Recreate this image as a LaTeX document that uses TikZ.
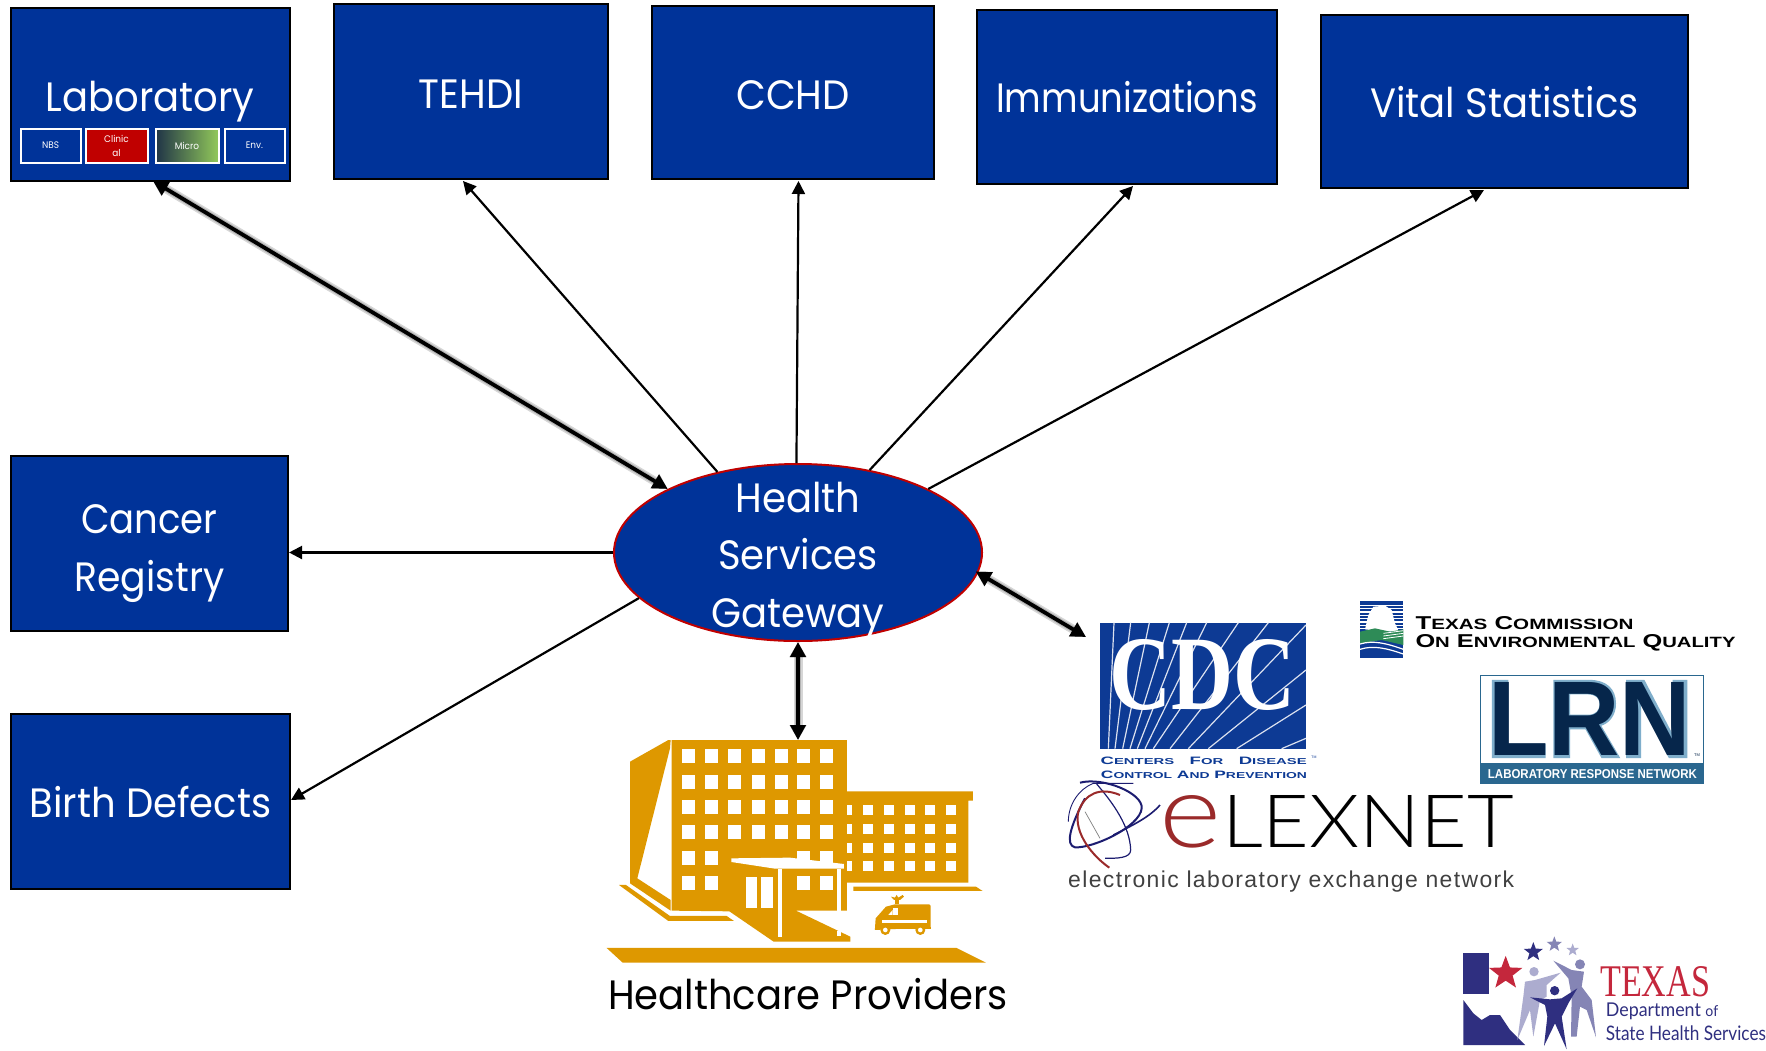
\documentclass[tikz,border=0pt]{standalone}
\usepackage{fontspec}
\usetikzlibrary{arrows.meta,shapes.geometric}
\setmainfont[FakeStretch=.94]{Poppins}
\newfontfamily\arialf{Liberation Sans}
\newfontfamily\serifc{Liberation Serif}
\newfontfamily\latof{Lato}
\newfontfamily\latolight{Lato Light}
\definecolor{boxblue}{HTML}{003399}
\definecolor{gwred}{HTML}{C00000}
\definecolor{hosp}{HTML}{DE9800}
\definecolor{cdcblue}{HTML}{0D3A94}
\definecolor{lrnnavy}{HTML}{06264B}
\definecolor{lrnband}{HTML}{2A678F}
\definecolor{lrnlight}{HTML}{7FAECB}
\definecolor{txnavy}{HTML}{2F2F80}
\definecolor{txred}{HTML}{C4273C}
\definecolor{txmid}{HTML}{8585B5}
\definecolor{txlight}{HTML}{ACACCF}
\definecolor{elexred}{HTML}{9A2A2A}
\definecolor{elexnavy}{HTML}{1C1C70}
\definecolor{tcgreen}{HTML}{2E8B57}
\definecolor{microa}{HTML}{1F3347}
\definecolor{microb}{HTML}{92C95A}
\newcommand{\capsm}[2]{{\fontsize{10}{10}\selectfont #1}{\fontsize{8}{8}\selectfont #2}}
\newcommand{\up}[1]{\rule{0pt}{#1pt}}
\tikzset{
  bluebox/.style={draw=black,line width=1.6pt,fill=boxblue,text=white,inner sep=0pt,align=center,font=\fontsize{41}{58}\selectfont},
  subbox/.style={draw=white,line width=2pt,fill=boxblue,text=white,inner sep=0pt,align=center,font=\fontsize{9.5}{14}\selectfont},
  thinarrow/.style={draw=black,line width=2.2pt,-{Triangle[length=13pt,width=13pt]}},
  thickarrow/.style={draw=black,line width=3.8pt,{Triangle[length=15pt,width=15pt]}-{Triangle[length=15pt,width=15pt]}},
  softshadow/.style={draw=black,opacity=.16,{Triangle[length=15pt,width=16pt]}-{Triangle[length=15pt,width=16pt]},shift={(-1.5pt,-4pt)}},
  lbl/.style={inner sep=0pt,align=center},
  win/.style={fill=white},
}
\newcommand{\shadowed}[2]{%
  \draw[softshadow,line width=9pt] (#1) -- (#2);
  \draw[softshadow,line width=6pt] (#1) -- (#2);
  \draw[thickarrow] (#1) -- (#2);}
\begin{document}
\begin{tikzpicture}[x=1pt,y=-1pt]
\useasboundingbox (0,0) rectangle (1766,1050);
\fill[white] (0,0) rectangle (1766,1050);

% ---------- boxes
\node[bluebox,minimum width=279.5pt,minimum height=173.5pt] (lab) at (150.5,94.5) {};
\node[lbl,text=white,font=\fontsize{41}{58}\selectfont] (labtext) at (150,102) {Laboratory};
\node[subbox,minimum width=60pt,minimum height=34pt] (nbs) at (50.5,145.5) {NBS};
\node[subbox,minimum width=62pt,minimum height=34pt,fill=gwred] (clin) at (116.5,145.5) {Clinic\\al};
\node[subbox,minimum width=63pt,minimum height=34pt,left color=microa,right color=microb,middle color=microa!50!microb] (micro) at (187,145.5) {Micro};
\node[subbox,minimum width=60pt,minimum height=34pt] (env) at (254.5,145.5) {Env.};
\node[bluebox,minimum width=274.5pt,minimum height=175.5pt] (tehdi) at (471,91.5) {\up{33}TEHDI};
\node[bluebox,minimum width=282.5pt,minimum height=173.5pt] (cchd) at (793,92.5) {\up{35}CCHD};
\node[bluebox,minimum width=300.5pt,minimum height=174.5pt] (imm) at (1127,97) {\up{31}\scalebox{.92}[1]{Immunizations}};
\node[bluebox,minimum width=367.5pt,minimum height=173.5pt] (vital) at (1504.5,101.5) {\up{33}Vital Statistics};
\node[bluebox,minimum width=277.5pt,minimum height=175.5pt] (cancer) at (149.5,543.5) {\up{49}\scalebox{.96}[1]{Cancer}\\\scalebox{.98}[1]{Registry}};
\node[bluebox,minimum width=279.5pt,minimum height=175.5pt] (birth) at (150.5,801.5) {\up{33}Birth Defects};

% ---------- gateway
\node[ellipse,draw=gwred,line width=2pt,fill=boxblue,inner sep=0pt,minimum width=368pt,minimum height=177pt] (gw) at (798,552.5) {};
\node[lbl,text=white,font=\fontsize{41}{57.5}\selectfont] (gwtext) at (798,560) {Health\\Services\\Gateway};

% ---------- connector ends
\coordinate (labtip) at (153,181);
\coordinate (tehditip) at (463,181);
\coordinate (cchdtip) at (798.5,181);
\coordinate (immtip) at (1133,186);
\coordinate (vitaltip) at (1484,190);
\coordinate (cdctip) at (1086,637);
\coordinate (hosptip) at (798,740);

\draw[thinarrow] (gw.135.5) -- (tehditip);
\draw[thinarrow] (gw.91) -- (cchdtip);
\draw[thinarrow] (gw.49.5) -- (immtip);
\draw[thinarrow] (gw.26) -- (vitaltip);
\draw[thinarrow] (gw.west) -- (cancer.east |- gw.west);
\draw[thinarrow] (gw.196.6) -- (birth.east |- 0,800);
\shadowed{labtip}{gw.154.5}
\shadowed{[xshift=-3pt]gw.-6.9}{cdctip}
\shadowed{gw.south}{hosptip}

% ---------- hospital
\begin{scope}[shift={(590,720)},x=.3333pt,y=-.3333pt]
\fill[hosp] (245,60) -- (771,60) -- (771,214) -- (1149,214) -- (1149,242) -- (1135,242) -- (1135,488) -- (771,488) -- (771,572) -- (618,572) -- (781,650) -- (781,665) -- (551,665) -- (418,574) -- (245,572) -- cycle;
\fill[hosp] (120,125) -- (235,60) -- (242,60) -- (240,85) -- (142,475) -- (242,540) -- (242,572) -- (120,490) -- cycle;
\fill[hosp] (87,495) -- (108,495) -- (240,588) -- (410,588) -- (432,603) -- (235,603) -- cycle;
\fill[hosp] (790,500) -- (1158,500) -- (1178,513) -- (790,513) -- cycle;
\fill[hosp] (50,684) -- (1100,684) -- (1188,728) -- (98,728) -- cycle;
\foreach \xw in {276,345,414,486,555,621,690} \foreach \yw in {87,165,240,315}
  \fill[win] (\xw,\yw) rectangle ++(39,42);
\foreach \xw in {276,345} \foreach \yw in {393,468}
  \fill[win] (\xw,\yw) rectangle ++(39,42);
\foreach \xw in {621,690} {
  \fill[win] (\xw,393) rectangle ++(39,36);
  \fill[win] (\xw,468) rectangle ++(39,42);}
\foreach \yw in {255,312,369,423} {
  \fill[win] (771,\yw) rectangle ++(14,30);
  \foreach \xw in {819,882,945,1005,1068}
    \fill[win] (\xw,\yw) rectangle ++(30,30);}
% canopy
\fill[win] (424,415) -- (600,413) -- (762,432) -- (762,446) -- (555,446) -- (424,426) -- cycle;
\fill[win] (564,446) rectangle (576,650);
\fill[win] (742,446) rectangle (752,575);
\fill[win] (742,632) rectangle (752,648);
\fill[win] (468,471) rectangle (501,564);
\fill[win] (513,471) rectangle (549,564);
% ambulance
\fill[hosp] (855,625) -- (857,595) -- (888,560) -- (915,553) -- (1018,553) -- (1022,557) -- (1022,622) -- (855,630) -- cycle;
\fill[hosp] (855,620) rectangle (1022,628);
\fill[win] (908,565) rectangle (925,585);
\fill[win] (895,585) -- (908,570) -- (908,585) -- cycle;
\fill[win] (875,601) -- (1010,601) -- (1010,609) -- (875,609) -- cycle;
\fill[hosp] (886,630) circle (15);
\fill[hosp] (991,630) circle (15);
\fill[win] (886,630) circle (7);
\fill[win] (991,630) circle (7);
\fill[hosp] (916,553) rectangle (928,540);
\fill[hosp] (903,530) -- (915,533) -- (920,525) -- (925,533) -- (938,525) -- (942,530) -- (930,540) -- (912,540) -- cycle;
\end{scope}
\node[lbl,text=black,font=\fontsize{41}{58}\selectfont,anchor=base] (hosptext) at (808,1009) {Healthcare Providers};

% ---------- CDC
\begin{scope}[shift={(1090,610)},x=.3333pt,y=-.3333pt]
\fill[cdcblue] (30,38) rectangle (648,416);
\foreach \bx/\tx in {55/72,75/122,98/178,120/238,142/290,165/350,190/445,240/535}
  \draw[white!85!cdcblue,line width=1.2pt] (\bx,416) -- (\tx,38);
\foreach \bx/\ry in {295/45,355/180,440/285,575/385}
  \draw[white!85!cdcblue,line width=1.2pt] (\bx,416) -- (648,\ry);
\node[lbl,text=white,font=\serifc\bfseries] (cdctext) at (338,196) {\resizebox{186pt}{70pt}{CDC}};
\node[lbl,text=cdcblue,font=\arialf\bfseries] (cdc1) at (341,451) {\resizebox{206pt}{7.5pt}{\capsm{C}{ENTERS}\ \ \ \capsm{F}{OR}\ \ \ \capsm{D}{ISEASE}}};
\node[lbl,text=cdcblue,font=\arialf\bfseries] (cdc2) at (342,494) {\resizebox{206pt}{7.5pt}{\capsm{C}{ONTROL} \capsm{A}{ND} \capsm{P}{REVENTION}}};
\node[lbl,text=cdcblue,font=\arialf] (cdctm) at (672,441) {\fontsize{3.5}{4}\selectfont TM};
\end{scope}

% ---------- TCEQ mark
\begin{scope}[shift={(1350,590)},x=.3333pt,y=-.3333pt]
\fill[cdcblue] (30,33) rectangle (160,203);
\foreach \ys in {44,54,64,74,84,94,104,114} \fill[white] (30,\ys) rectangle (160,\ys+4);
\fill[white] (45,118) -- (55,75) -- (70,50) -- (105,47) -- (125,60) -- (135,100) -- (147,125) -- (100,125) -- cycle;
\fill[tcgreen] (30,125) -- (75,115) -- (120,125) -- (160,118) -- (160,165) -- (95,150) -- (30,160) -- cycle;
\foreach \ys in {122,130,138} \draw[white,line width=.8pt] (100,\ys+8) -- (160,\ys);
\draw[white,line width=1.2pt] (30,162) .. controls (70,150) and (110,160) .. (160,178);
\draw[white,line width=1.2pt] (30,178) .. controls (70,165) and (110,175) .. (160,192);
\end{scope}

% ---------- TCEQ text / LRN
\begin{scope}[shift={(1050,580)},x=.4566pt,y=-.3333pt]
\node[lbl,text=black,font=\arialf\bfseries,anchor=west] (tc1) at (800,130) {\resizebox{218pt}{13pt}{\capsm{T}{EXAS} \capsm{C}{OMMISSION}}};
\node[lbl,text=black,font=\arialf\bfseries,anchor=west] (tc2) at (800,189) {\resizebox{320pt}{13pt}{\capsm{O}{N} \capsm{E}{NVIRONMENTAL} \capsm{Q}{UALITY}}};
\fill[white] (942,285) rectangle (1432,548);
\draw[lrnband,line width=1pt] (942,285) rectangle (1432,612);
\fill[lrnband] (942,548) rectangle (1432,612);
\node[lbl,text=lrnlight,font=\arialf\bfseries] (lrnback) at (1182,417) {\resizebox{207pt}{76pt}{\addfontfeature{FakeBold=2}LRN}};
\node[lbl,text=lrnnavy,font=\arialf\bfseries] (lrnfront) at (1182,417) {\resizebox{203pt}{73pt}{LRN}};
\node[lbl,text=lrnnavy,font=\arialf] (lrntm) at (1417,526) {\fontsize{4}{4}\selectfont TM};
\node[lbl,text=white,font=\arialf\bfseries] (lrnbandtext) at (1188,581) {\resizebox{209pt}{9pt}{LABORATORY RESPONSE NETWORK}};
\end{scope}

% ---------- eLEXNET
\begin{scope}[shift={(1060,770)},x=.3333pt,y=-.3333pt]
\draw[elexnavy,line width=2pt] (60,38) .. controls (130,20) and (250,70) .. (245,115) .. controls (240,170) and (100,235) .. (45,232) .. controls (15,225) and (30,170) .. (75,85);
\draw[elexnavy,line width=1.6pt] (160,195) .. controls (220,165) and (270,140) .. (300,105);
\draw[elexnavy,line width=1.2pt] (110,42) .. controls (160,100) and (210,170) .. (212,240) .. controls (212,265) and (170,265) .. (135,265);
\draw[elexnavy,line width=.9pt] (25,155) .. controls (25,100) and (60,55) .. (100,40) -- (220,40);
\draw[elexred,line width=2pt] (180,75) .. controls (120,50) and (75,70) .. (55,125) .. controls (40,190) and (100,260) .. (148,293);
\draw[gray,line width=.7pt] (75,125) -- (120,205);
\node[lbl,text=elexred,font=\latolight,anchor=base] (elexe) at (390,233) {\resizebox{62pt}{52pt}{e}};
\node[lbl,text=black,font=\latolight,anchor=base west] (elexr) at (486,233) {\resizebox{292pt}{52pt}{LEXNET}};
\end{scope}
\node[lbl,text=black!75,font=\arialf,anchor=base west] (elexsub) at (1068,887) {\resizebox{446pt}{!}{\addfontfeature{LetterSpace=6}electronic laboratory exchange network}};

% ---------- Texas DSHS
\begin{scope}[shift={(1440,920)},x=.3333pt,y=-.3333pt]
\fill[txnavy] (70,98) rectangle (148,222);
\fill[txnavy] (70,240) -- (100,280) -- (125,300) -- (150,285) -- (180,285) -- (210,330) -- (255,375) -- (70,375) -- cycle;
\node[star,star points=5,star point ratio=2.4,fill=txred,inner sep=0pt,minimum size=35pt] (s0) at (197,160) {};
\node[star,star points=5,star point ratio=2.4,fill=txnavy,inner sep=0pt,minimum size=20pt] (s1) at (280,96) {};
\node[star,star points=5,star point ratio=2.4,fill=txmid,inner sep=0pt,minimum size=16pt] (s2) at (343,73) {};
\node[star,star points=5,star point ratio=2.4,fill=txlight,inner sep=0pt,minimum size=13pt] (s3) at (398,90) {};
% right figure
\fill[txmid] (420,133) circle (15);
\fill[txmid] (340,122) -- (395,150) -- (432,155) -- (425,200) -- (455,240) -- (468,352) -- (440,270) -- (420,260) -- (410,350) -- (393,350) -- (395,230) -- (385,175) -- cycle;
% left figure
\fill[txlight] (282,155) circle (14);
\fill[txlight] (255,185) -- (285,180) -- (362,158) -- (320,195) -- (320,230) -- (300,240) -- (280,350) -- (270,270) -- (232,360) -- (250,230) -- cycle;
% front figure
\fill[txnavy] (344,212) circle (14);
\fill[txnavy] (270,232) -- (330,238) -- (365,235) -- (412,205) -- (385,250) -- (365,290) -- (380,388) -- (345,310) -- (312,378) -- (322,290) -- (315,255) -- cycle;
\node[lbl,text=txred,font=\serifc,anchor=base west] (tx1) at (480,230) {\resizebox{110pt}{30pt}{TEXAS}};
\node[lbl,text=txnavy,font=\latof,anchor=base west] (tx2) at (497,289) {\scalebox{.94}[1]{\fontsize{19}{19}\selectfont Department {\fontsize{15}{15}\selectfont of}}};
\node[lbl,text=txnavy,font=\latof,anchor=base west] (tx3) at (497,361) {\scalebox{.86}[1]{\fontsize{20}{20}\selectfont State Health Services}};
\end{scope}
\end{tikzpicture}
\end{document}
